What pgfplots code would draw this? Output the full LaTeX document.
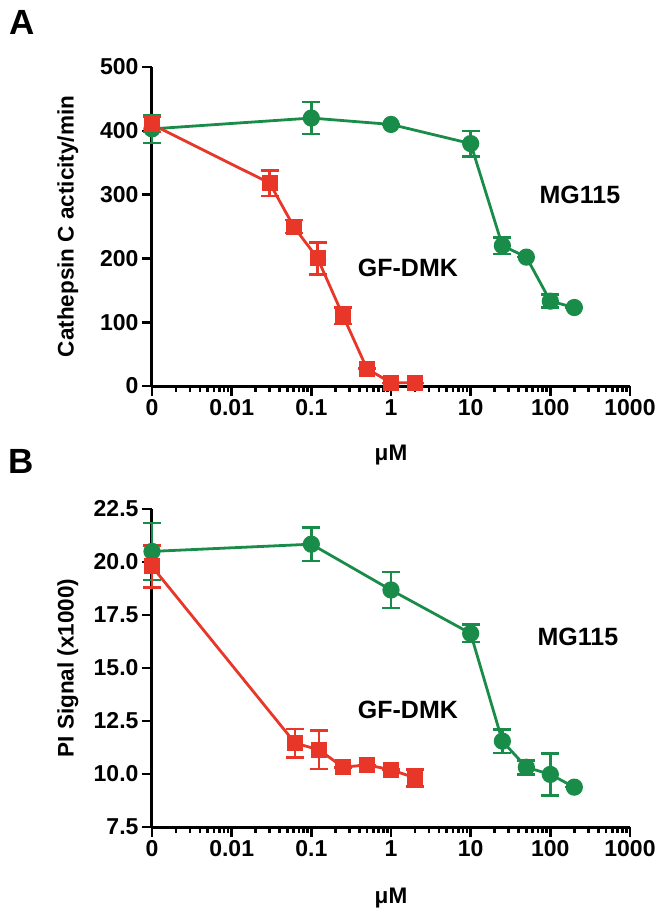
\documentclass[border=0pt]{standalone}
\usepackage{fontspec}
\setmainfont{Liberation Sans}
\usepackage{pgfplots}
\pgfplotsset{compat=1.18}
\definecolor{mgGreen}{RGB}{26,140,74}
\definecolor{gfRed}{RGB}{232,54,40}

\pgfplotsset{
  every axis/.append style={
    scale only axis, width=478pt,
    axis lines=left,
    axis line style={line width=3pt, -},
    tick align=outside,
    major tick length=10pt, minor tick length=6pt,
    every tick/.style={line width=2.6pt, black},
    ticklabel style={font=\bfseries\fontsize{23}{26}\selectfont},
    label style={font=\bfseries\fontsize{22.5}{26}\selectfont},
    clip=false,
  },
}

\begin{document}
\begin{tikzpicture}
\useasboundingbox (0pt,0pt) rectangle (661pt,-917pt);

\node[font=\bfseries\fontsize{35}{40}\selectfont] at (22pt,-22pt) {A};
\node[font=\bfseries\fontsize{35}{40}\selectfont] at (21pt,-461pt) {B};

\begin{semilogxaxis}[at={(152pt,-386pt)}, anchor=south west, height=319pt,
  xmin=0.001, xmax=1000,
  xtick={0.001,0.01,0.1,1,10,100,1000},
  xticklabels={0,0.01,0.1,1,10,100,1000},
  minor xtick={0.002,0.003,0.004,0.005,0.006,0.007,0.008,0.009,0.02,0.03,0.04,0.05,0.06,0.07,0.08,0.09,0.2,0.3,0.4,0.5,0.6,0.7,0.8,0.9,2,3,4,5,6,7,8,9,20,30,40,50,60,70,80,90,200,300,400,500,600,700,800,900},
  ymin=0, ymax=500, ytick={0,100,200,300,400,500},
  /pgf/number format/assume math mode=true,
  xlabel={μM},
  ylabel={Cathepsin C acticity/min},
  x label style={at={(axis description cs:0.5,-0.216)}, anchor=center},
  y label style={at={(axis description cs:-0.176,0.5)}, anchor=center}]
\addplot[mgGreen, line width=2.8pt, mark=*, mark size=7.2pt, mark options={solid, fill=mgGreen},
  error bars/y dir=both, error bars/y explicit,
  error bars/error bar style={line width=2.6pt},
  error bars/error mark options={rotate=90, mark size=9pt, line width=2.6pt}]
  table[x=x, y=y, y error=e] {
x y e
0.001 403 22
0.1 420 25
1 410 0
10 380 20
25 220 13
50 202 0
100 133 10
200 123 0
};
\addplot[gfRed, line width=2.8pt, mark=square*, mark size=6.6pt, mark options={solid, fill=gfRed},
  error bars/y dir=both, error bars/y explicit,
  error bars/error bar style={line width=2.6pt},
  error bars/error mark options={rotate=90, mark size=9pt, line width=2.6pt}]
  table[x=x, y=y, y error=e] {
x y e
0.001 410 12
0.03 318 20
0.06 250 10
0.12 200 25
0.25 110 13
0.5 27 0
1 5 0
2 5 0
};
\node[font=\bfseries\fontsize{25}{30}\selectfont] at (axis cs:235,299) {MG115};
\node[font=\bfseries\fontsize{25}{30}\selectfont] at (axis cs:1.63,185) {GF-DMK};
\end{semilogxaxis}

\begin{semilogxaxis}[at={(152pt,-827pt)}, anchor=south west, height=318pt,
  xmin=0.001, xmax=1000,
  xtick={0.001,0.01,0.1,1,10,100,1000},
  xticklabels={0,0.01,0.1,1,10,100,1000},
  minor xtick={0.002,0.003,0.004,0.005,0.006,0.007,0.008,0.009,0.02,0.03,0.04,0.05,0.06,0.07,0.08,0.09,0.2,0.3,0.4,0.5,0.6,0.7,0.8,0.9,2,3,4,5,6,7,8,9,20,30,40,50,60,70,80,90,200,300,400,500,600,700,800,900},
  ymin=7.5, ymax=22.5, ytick={7.5,10,12.5,15,17.5,20,22.5},
  yticklabels={7.5,10.0,12.5,15.0,17.5,20.0,22.5},
  /pgf/number format/assume math mode=true,
  xlabel={μM},
  ylabel={PI Signal (x1000)},
  x label style={at={(axis description cs:0.5,-0.223)}, anchor=center},
  y label style={at={(axis description cs:-0.176,0.5)}, anchor=center}]
\addplot[mgGreen, line width=2.8pt, mark=*, mark size=7.2pt, mark options={solid, fill=mgGreen},
  error bars/y dir=both, error bars/y explicit,
  error bars/error bar style={line width=2.6pt},
  error bars/error mark options={rotate=90, mark size=9pt, line width=2.6pt}]
  table[x=x, y=y, y error=e] {
x y e
0.001 20.5 1.34
0.1 20.84 0.8
1 18.68 0.85
10 16.63 0.41
25 11.55 0.55
50 10.32 0.33
100 9.98 1.0
200 9.38 0
};
\addplot[gfRed, line width=2.8pt, mark=square*, mark size=6.6pt, mark options={solid, fill=gfRed},
  error bars/y dir=both, error bars/y explicit,
  error bars/error bar style={line width=2.6pt},
  error bars/error mark options={rotate=90, mark size=9pt, line width=2.6pt}]
  table[x=x, y=y, y error=e] {
x y e
0.001 19.79 1.0
0.0625 11.46 0.67
0.125 11.14 0.9
0.25 10.32 0
0.5 10.43 0
1 10.2 0
2 9.82 0.4
};
\node[font=\bfseries\fontsize{25}{30}\selectfont] at (axis cs:222,16.46) {MG115};
\node[font=\bfseries\fontsize{25}{30}\selectfont] at (axis cs:1.63,13.02) {GF-DMK};
\end{semilogxaxis}
\end{tikzpicture}
\end{document}
